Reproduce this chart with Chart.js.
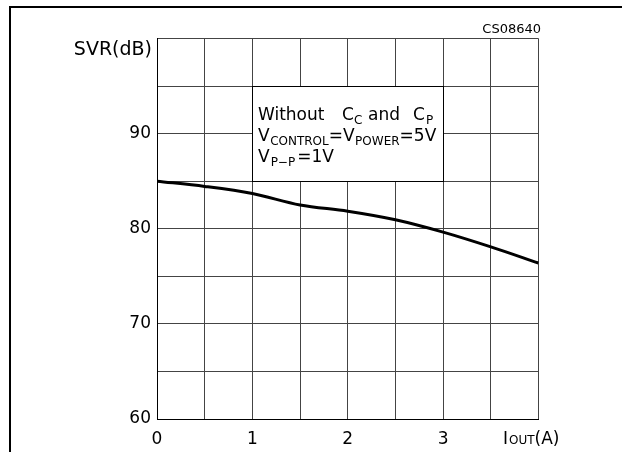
<!DOCTYPE html>
<html><head><meta charset="utf-8">
<script src="https://cdn.jsdelivr.net/npm/chart.js@4.4.0/dist/chart.umd.min.js"></script>
<style>html,body{margin:0;padding:0;background:#fff}#wrap{width:622px;height:452px}</style>
</head><body><div id="wrap"><canvas id="c" width="622" height="452"></canvas></div>
<script>
const currentA = [0, 0.5, 1, 1.5, 2, 2.5, 3, 3.5, 4];
const svrDb = [85.0, 84.45, 83.7, 82.5, 81.85, 80.95, 79.65, 78.1, 76.4];
const yTickLabels = [60, 70, 80, 90];
const xTickLabels = [0, 1, 2, 3];
const FONT = '"DejaVu Sans", sans-serif';

const decor = {
  id: 'decor',
  beforeDraw(chart) {
    const ctx = chart.ctx;
    ctx.save();
    ctx.fillStyle = '#000';
    ctx.fillRect(9, 6, 613, 2);
    ctx.fillRect(9, 6, 2, 446);
    ctx.restore();
  },
  afterDraw(chart) {
    const ctx = chart.ctx;
    const xs = chart.scales.x, ys = chart.scales.y;
    ctx.save();
    const l = Math.round(xs.getPixelForValue(1)) + 0.5, r = Math.round(xs.getPixelForValue(3)) + 0.5;
    const t = Math.round(ys.getPixelForValue(95)) + 0.5, b = Math.round(ys.getPixelForValue(85)) + 0.5;
    ctx.fillStyle = '#fff';
    ctx.fillRect(l, t, r - l, b - t);
    ctx.strokeStyle = '#000'; ctx.lineWidth = 1;
    ctx.strokeRect(l, t, r - l, b - t);
    ctx.fillStyle = '#000';
    ctx.textBaseline = 'alphabetic';
    ctx.textAlign = 'left';
    const big = '17px ' + FONT, small = '12px ' + FONT;
    function seg(txt, x, y, f) { ctx.font = f; ctx.fillText(txt, x, y); return x + ctx.measureText(txt).width; }
    // line 1
    seg('Without', 258, 120, big);
    seg('C', 342, 120, big); seg('C', 354, 124, small);
    seg('and', 368, 120, big);
    seg('C', 413, 120, big); seg('P', 426, 124, small);
    // line 2
    let x = 258;
    x = seg('V', x, 141, big); x = seg('CONTROL', x + 0.5, 145, small);
    x = seg('=', x, 141, big);
    x = seg('V', x, 141, big); x = seg('POWER', x + 0.5, 145, small);
    x = seg('=', x, 141, big); x = seg('5V', x, 141, big);
    // line 3
    x = 258;
    x = seg('V', x, 162, big); x = seg('P\u2212P', x + 1, 166, small);
    x = seg('=', x + 2, 162, big); x = seg('1V', x, 162, big);
    // axis titles
    ctx.font = '19px ' + FONT; ctx.textAlign = 'right';
    ctx.fillText('SVR(dB)', 152, 55);
    ctx.font = '13px ' + FONT;
    ctx.fillText('CS08640', 541, 33);
    ctx.textAlign = 'left';
    x = seg('I', 503, 444, '17px ' + FONT);
    x = seg('OUT', x + 1, 444, '12px ' + FONT);
    seg('(A)', x, 444, '17px ' + FONT);
    ctx.restore();
  }
};

new Chart(document.getElementById('c'), {
  type: 'line',
  data: {
    datasets: [{
      data: currentA.map((x, i) => ({ x: x, y: svrDb[i] })),
      borderColor: '#000', borderWidth: 3, pointRadius: 0,
      tension: 0.4, cubicInterpolationMode: 'monotone', fill: false
    }]
  },
  options: {
    responsive: false, animation: false, devicePixelRatio: 1,
    layout: { padding: { left: 0, top: 38.5, right: 83.5, bottom: 0 } },
    plugins: { legend: { display: false }, tooltip: { enabled: false } },
    scales: {
      x: {
        type: 'linear', min: 0, max: 4,
        afterFit: s => { s.height = 33; },
        grid: { color: '#444', lineWidth: 1, drawTicks: false },
        border: { color: '#000', width: 1 },
        ticks: {
          stepSize: 0.5, padding: 10, color: '#000', maxRotation: 0, autoSkip: false,
          font: { family: FONT, size: 17 },
          callback: v => xTickLabels.includes(v) ? String(v) : ''
        }
      },
      y: {
        type: 'linear', min: 60, max: 100,
        afterFit: s => { s.width = 157; },
        grid: { color: '#444', lineWidth: 1, drawTicks: false },
        border: { color: '#000', width: 1 },
        ticks: {
          stepSize: 5, padding: 6, color: '#000', autoSkip: false,
          font: { family: FONT, size: 17 },
          callback: v => yTickLabels.includes(v) ? String(v) : ''
        }
      }
    }
  },
  plugins: [decor]
});
</script></body></html>
